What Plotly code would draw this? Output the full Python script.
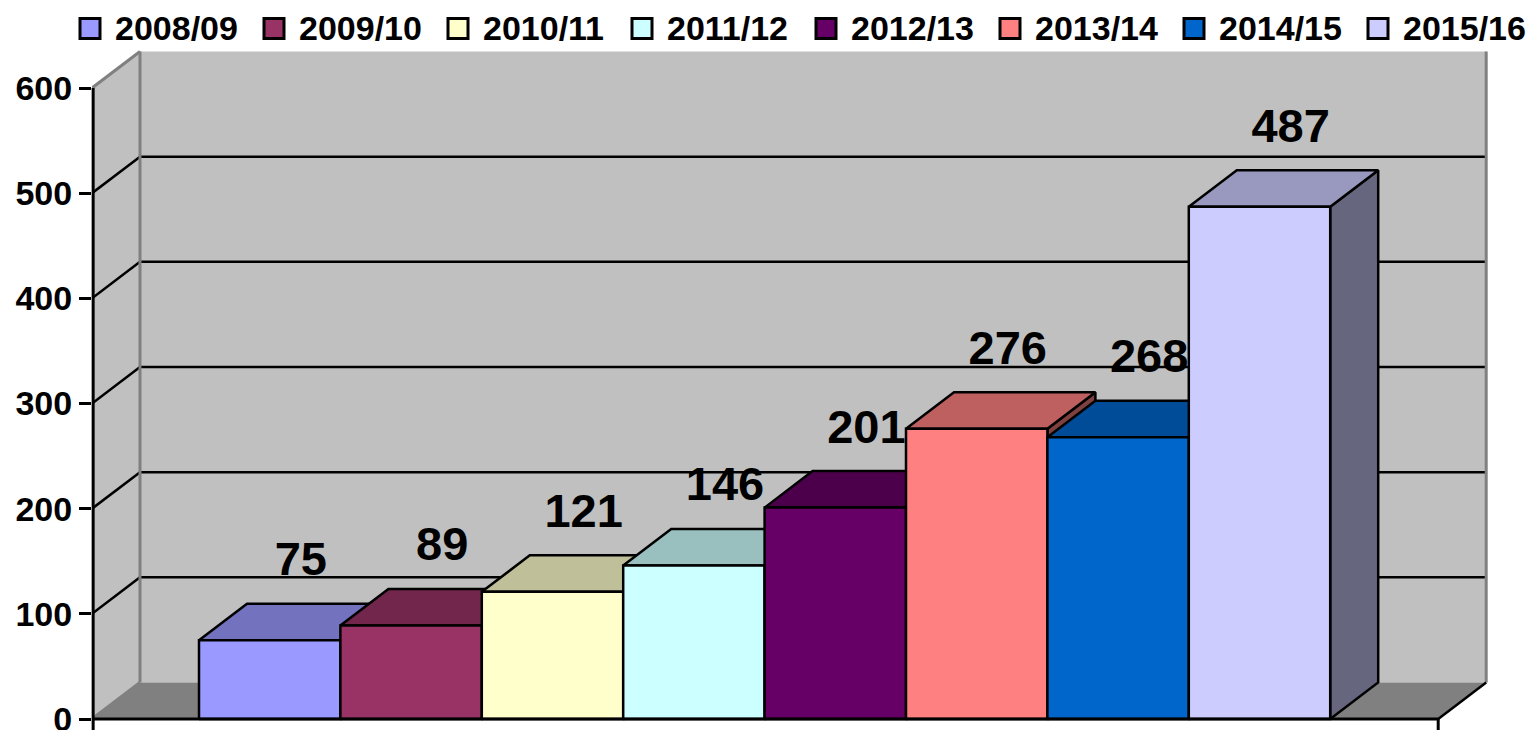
import plotly.graph_objects as go

# ---------------- data ----------------
seasons = ["2008/09", "2009/10", "2010/11", "2011/12", "2012/13", "2013/14", "2014/15", "2015/16"]
values = [75, 89, 121, 146, 201, 276, 268, 487]
front_colors = ["#9999FF", "#993366", "#FFFFCC", "#CCFFFF", "#660066", "#FF8080", "#0066CC", "#CCCCFF"]
y_ticks = [0, 100, 200, 300, 400, 500, 600]

# ---------------- geometry / style ----------------
W, H = 1531, 730
L = 92                     # left margin (front y-axis position)
PX_X = 141.4               # px per category slot
PX_Y = 631 / 600           # px per value unit
Y0_PX = 719                # pixel row of value 0 on the front plane
DEPTH_X_PX, DEPTH_Y_PX = 48, 36.5
GAP_L_PX, GAP_R_PX = 107, 108
FONT = "Liberation Sans, Arial, sans-serif"

n = len(values)
dx = DEPTH_X_PX / PX_X
dy = DEPTH_Y_PX / PX_Y
FL = -0.5 - GAP_L_PX / PX_X
FR = n - 0.5 + GAP_R_PX / PX_X
x_range = [FL, FL + (W - L) / PX_X]
y_range = [-(H - Y0_PX) / PX_Y, Y0_PX / PX_Y]
ymax = y_ticks[-1]


def shade(hexc, f):
    h = hexc.lstrip("#")
    r, g, b = (int(h[i:i + 2], 16) for i in (0, 2, 4))
    return "#%02X%02X%02X" % (int(r * f), int(g * f), int(b * f))


fig = go.Figure()

# ---------------- bars (front, top, side faces) ----------------
for i, (name, v, c) in enumerate(zip(seasons, values, front_colors)):
    x0, x1 = i - 0.5, i + 0.5
    # side face
    fig.add_trace(go.Scatter(
        x=[x1, x1 + dx, x1 + dx, x1, x1], y=[0, dy, v + dy, v, 0],
        mode="lines", fill="toself", fillcolor=shade(c, 0.5),
        line=dict(color="black", width=2.5), hoverinfo="skip", showlegend=False))
    # top face
    fig.add_trace(go.Scatter(
        x=[x0, x1, x1 + dx, x0 + dx, x0], y=[v, v, v + dy, v + dy, v],
        mode="lines", fill="toself", fillcolor=shade(c, 0.75),
        line=dict(color="black", width=2.5), hoverinfo="skip", showlegend=False))
    # front face
    fig.add_trace(go.Scatter(
        x=[x0, x1, x1, x0, x0], y=[0, 0, v, v, 0],
        mode="lines", fill="toself", fillcolor=c, name=name,
        line=dict(color="black", width=2.5), hoverinfo="x+y", showlegend=False))

# data labels
fig.add_trace(go.Scatter(
    x=[i + 0.22 for i in range(n)], y=[v + 73 for v in values],
    mode="text", text=[str(v) for v in values],
    textfont=dict(family=FONT, size=47, color="black", weight="bold"),
    hoverinfo="skip", showlegend=False, cliponaxis=False))

# ---------------- walls, floor, gridlines ----------------
shapes = []
# back wall
shapes.append(dict(type="rect", xref="x", yref="y", x0=FL + dx, x1=FR + dx, y0=dy, y1=ymax + dy,
                   fillcolor="#C0C0C0", line=dict(width=0), layer="below"))
# side wall
shapes.append(dict(type="path", xref="x", yref="y",
                   path=f"M {FL},0 L {FL+dx},{dy} L {FL+dx},{ymax+dy} L {FL},{ymax} Z",
                   fillcolor="#C0C0C0", line=dict(width=0), layer="below"))
# floor
shapes.append(dict(type="path", xref="x", yref="y",
                   path=f"M {FL},0 L {FR},0 L {FR+dx},{dy} L {FL+dx},{dy} Z",
                   fillcolor="#808080", line=dict(width=0), layer="below"))
# gridlines on back wall and side wall
for t in y_ticks[1:-1]:
    shapes.append(dict(type="line", xref="x", yref="y", x0=FL + dx, x1=FR + dx, y0=t + dy, y1=t + dy,
                       line=dict(color="black", width=2.5), layer="below"))
    shapes.append(dict(type="line", xref="x", yref="y", x0=FL, x1=FL + dx, y0=t, y1=t + dy,
                       line=dict(color="black", width=2.5), layer="below"))
# wall edges (gray)
gray_edges = [
    (FL + dx, dy, FL + dx, ymax + dy),
    (FL, ymax, FL + dx, ymax + dy),
    (FL, 0, FL + dx, dy),
    (FR + dx, dy, FR + dx, ymax + dy),
]
for (a, b, c2, d) in gray_edges:
    shapes.append(dict(type="line", xref="x", yref="y", x0=a, y0=b, x1=c2, y1=d,
                       line=dict(color="#808080", width=3), layer="below"))
# floor right edge (black)
shapes.append(dict(type="line", xref="x", yref="y", x0=FR, y0=0, x1=FR + dx, y1=dy,
                   line=dict(color="black", width=2.5), layer="below"))
# front x-axis line and end tick
shapes.append(dict(type="line", xref="x", yref="y", x0=FL, y0=0, x1=FR, y1=0,
                   line=dict(color="black", width=3), layer="above"))
shapes.append(dict(type="line", xref="x", yref="y", x0=FR, y0=0, x1=FR, y1=y_range[0],
                   line=dict(color="black", width=3), layer="above"))
# y-axis line
shapes.append(dict(type="line", xref="paper", yref="y", x0=0.0008, x1=0.0008, y0=y_range[0], y1=ymax,
                   line=dict(color="black", width=3), layer="above"))

# ---------------- legend (drawn) ----------------
annotations = []
LEG_X0, LEG_STEP, LEG_SQ, LEG_TXT_OFF, LEG_CY = 80, 184, 20, 33, 28.5
pw = W - L
for i, (name, c) in enumerate(zip(seasons, front_colors)):
    sx = LEG_X0 + i * LEG_STEP
    shapes.append(dict(type="rect", xref="paper", yref="paper",
                       x0=(sx - L) / pw, x1=(sx + LEG_SQ - L) / pw,
                       y0=1 - (LEG_CY + LEG_SQ / 2) / H, y1=1 - (LEG_CY - LEG_SQ / 2) / H,
                       fillcolor=c, line=dict(color="black", width=3), layer="above"))
    annotations.append(dict(xref="paper", yref="paper", x=(sx + LEG_TXT_OFF - L) / pw,
                            y=1 - LEG_CY / H, xanchor="left", yanchor="middle", showarrow=False,
                            text=name, font=dict(family=FONT, size=34, color="black", weight="bold")))

fig.update_layout(
    width=W, height=H,
    margin=dict(l=L, r=0, t=0, b=0, autoexpand=False),
    paper_bgcolor="white", plot_bgcolor="white",
    showlegend=False,
    shapes=shapes, annotations=annotations,
    xaxis=dict(visible=False, range=x_range, fixedrange=True),
    yaxis=dict(range=y_range, tickvals=y_ticks, ticktext=[str(t) for t in y_ticks],
               ticks="outside", ticklen=12, tickwidth=3, tickcolor="black",
               ticklabeloverflow="allow",
               showgrid=False, zeroline=False, showline=False, fixedrange=True,
               tickfont=dict(family=FONT, size=34, color="black", weight="bold")),
)

fig.write_html("out.html", config={"displayModeBar": False},
               post_script="document.body.style.margin='0px';")
